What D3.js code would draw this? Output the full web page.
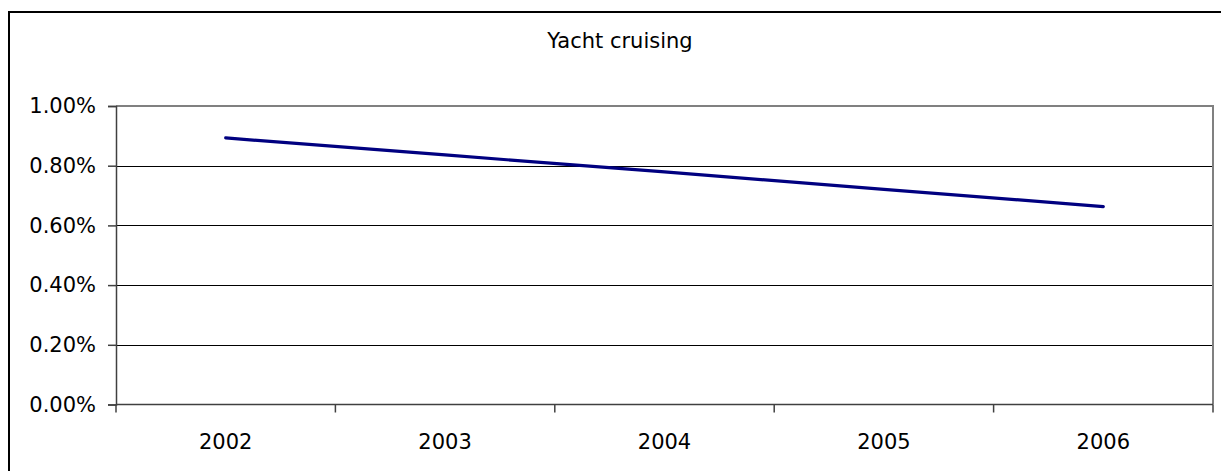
<!DOCTYPE html>
<html><head><meta charset="utf-8">
<script src="https://cdn.jsdelivr.net/npm/d3@7"></script>
<style>html,body{margin:0;padding:0;background:#fff;overflow:hidden}</style>
</head><body>
<svg id="chart" width="1221" height="471"></svg>
<script>
const title = "Yacht cruising";
const years = ["2002", "2003", "2004", "2005", "2006"];
const values = [0.00893, 0.00836, 0.00779, 0.00721, 0.00663];
const yTickValues = [0, 0.002, 0.004, 0.006, 0.008, 0.01];

const svg = d3.select("#chart");
const font = "'DejaVu Sans', Verdana, sans-serif";
const fs = 21;
const L = 116, R = 1213, T = 106, B = 404.5;

// outer chart border (extends past the window bottom/right)
svg.append("rect").attr("x", 9).attr("y", 12).attr("width", 1240).attr("height", 500)
  .attr("fill", "#fff").attr("stroke", "#000").attr("stroke-width", 2);

const x = d3.scaleBand().domain(years).range([L, R]);
const y = d3.scaleLinear().domain([0, 0.01]).range([B, T]);

// gridlines
svg.append("g").selectAll("line").data(yTickValues.filter(v => v > 0 && v < 0.01)).join("line")
  .attr("x1", L).attr("x2", R).attr("y1", d => Math.round(y(d)) + 0.5).attr("y2", d => Math.round(y(d)) + 0.5)
  .attr("stroke", "#000").attr("stroke-width", 1);

// plot area top/right border (gray)
svg.append("path").attr("d", `M${L},${y(0.01)}H${R}V${B}`)
  .attr("fill", "none").attr("stroke", "#808080").attr("stroke-width", 2);

// y axis
const yAxis = d3.axisLeft(y).tickValues(yTickValues).tickFormat(d3.format(".2%")).tickSize(8).tickPadding(12);
const gy = svg.append("g").attr("transform", `translate(${L},0)`).call(yAxis);
gy.select(".domain").attr("stroke", "#404040").attr("stroke-width", 1.5);
gy.selectAll(".tick line").attr("stroke", "#404040").attr("stroke-width", 1.5);
gy.selectAll("text").attr("font-family", font).attr("font-size", fs).attr("fill", "#000");

// x axis
const gx = svg.append("g").attr("transform", `translate(0,${B})`);
gx.append("line").attr("x1", L).attr("x2", R).attr("y1", 0).attr("y2", 0)
  .attr("stroke", "#404040").attr("stroke-width", 1.5);
const edges = years.map(d => x(d)).concat([x(years[years.length - 1]) + x.bandwidth()]);
gx.selectAll("line.tk").data(edges).join("line").attr("class", "tk")
  .attr("x1", d => d).attr("x2", d => d).attr("y1", 0).attr("y2", 8)
  .attr("stroke", "#404040").attr("stroke-width", 1.5);
gx.selectAll("text").data(years).join("text")
  .attr("x", d => x(d) + x.bandwidth() / 2).attr("y", 44.5)
  .attr("text-anchor", "middle").attr("font-family", font).attr("font-size", fs).attr("fill", "#000")
  .text(d => d);

// line
const line = d3.line().x((d, i) => x(years[i]) + x.bandwidth() / 2).y(d => y(d));
svg.append("path").datum(values).attr("d", line)
  .attr("fill", "none").attr("stroke", "#000080").attr("stroke-width", 3.2)
  .attr("stroke-linecap", "round").attr("stroke-linejoin", "round");

// title
svg.append("text").attr("x", 620).attr("y", 48).attr("text-anchor", "middle")
  .attr("font-family", font).attr("font-size", fs).attr("fill", "#000").text(title);
</script>
</body></html>
